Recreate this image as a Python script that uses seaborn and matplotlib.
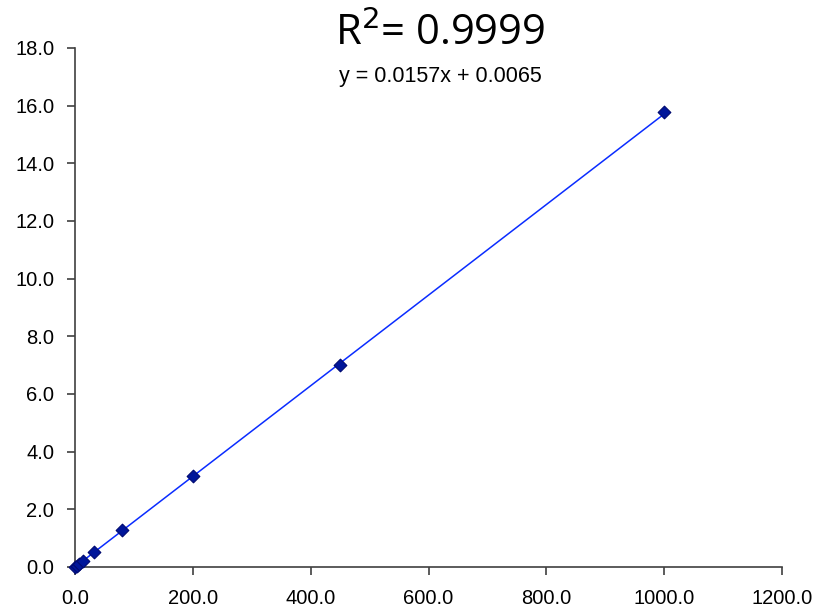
import pandas as pd
import seaborn as sns
from matplotlib import pyplot as plt

# calibration points
conc = [0, 2.5, 6, 12.5, 32, 80, 200, 450, 1000]
signal = [0.0, 0.05, 0.10, 0.20, 0.51, 1.27, 3.15, 7.02, 15.76]
slope, intercept = 0.0157, 0.0065

x_ticks = [0, 200, 400, 600, 800, 1000, 1200]
y_ticks = [0, 2, 4, 6, 8, 10, 12, 14, 16, 18]

df = pd.DataFrame({"x": conc, "y": signal})
df["fit"] = slope * df["x"] + intercept

sns.set_style("ticks")
plt.rcParams["font.family"] = ["Liberation Sans", "DejaVu Sans"]

fig = plt.figure(figsize=(8.17, 6.10), dpi=100)
ax = fig.add_axes([0.092, 0.0705, 0.865, 0.851])

# trendline
sns.lineplot(data=df, x="x", y="fit", color="#0a2cff", linewidth=1.1, ax=ax)
# data points
sns.scatterplot(data=df, x="x", y="y", marker="D", s=42, color="#00169a",
                edgecolor="#000a70", linewidth=0.8, zorder=5, ax=ax)

ax.set_xlim(0, 1200)
ax.set_ylim(0, 18)
ax.set_xticks(x_ticks)
ax.set_yticks(y_ticks)
ax.set_xticklabels([f"{v:.1f}" for v in x_ticks])
ax.set_yticklabels([f"{v:.1f}" for v in y_ticks])
ax.tick_params(labelsize=14.5, colors="#404040", labelcolor="black", length=6, width=1.2)
ax.tick_params(axis="x", pad=10)
ax.tick_params(axis="y", pad=9)
ax.set_xlabel("")
ax.set_ylabel("")
for s in ["left", "bottom"]:
    ax.spines[s].set_color("#404040")
    ax.spines[s].set_linewidth(1.2)
sns.despine(ax=ax)
for c in ax.collections:
    c.set_clip_on(False)

fig.text(0.539, 0.926, "R$^2$= 0.9999", ha="center", va="baseline", fontsize=30,
         color="black", family=["Open Sans", "DejaVu Sans"])
fig.text(0.539, 0.866, "y = 0.0157x + 0.0065", ha="center", va="baseline",
         fontsize=15.5, color="black")

fig.savefig("out.png", dpi=100)
